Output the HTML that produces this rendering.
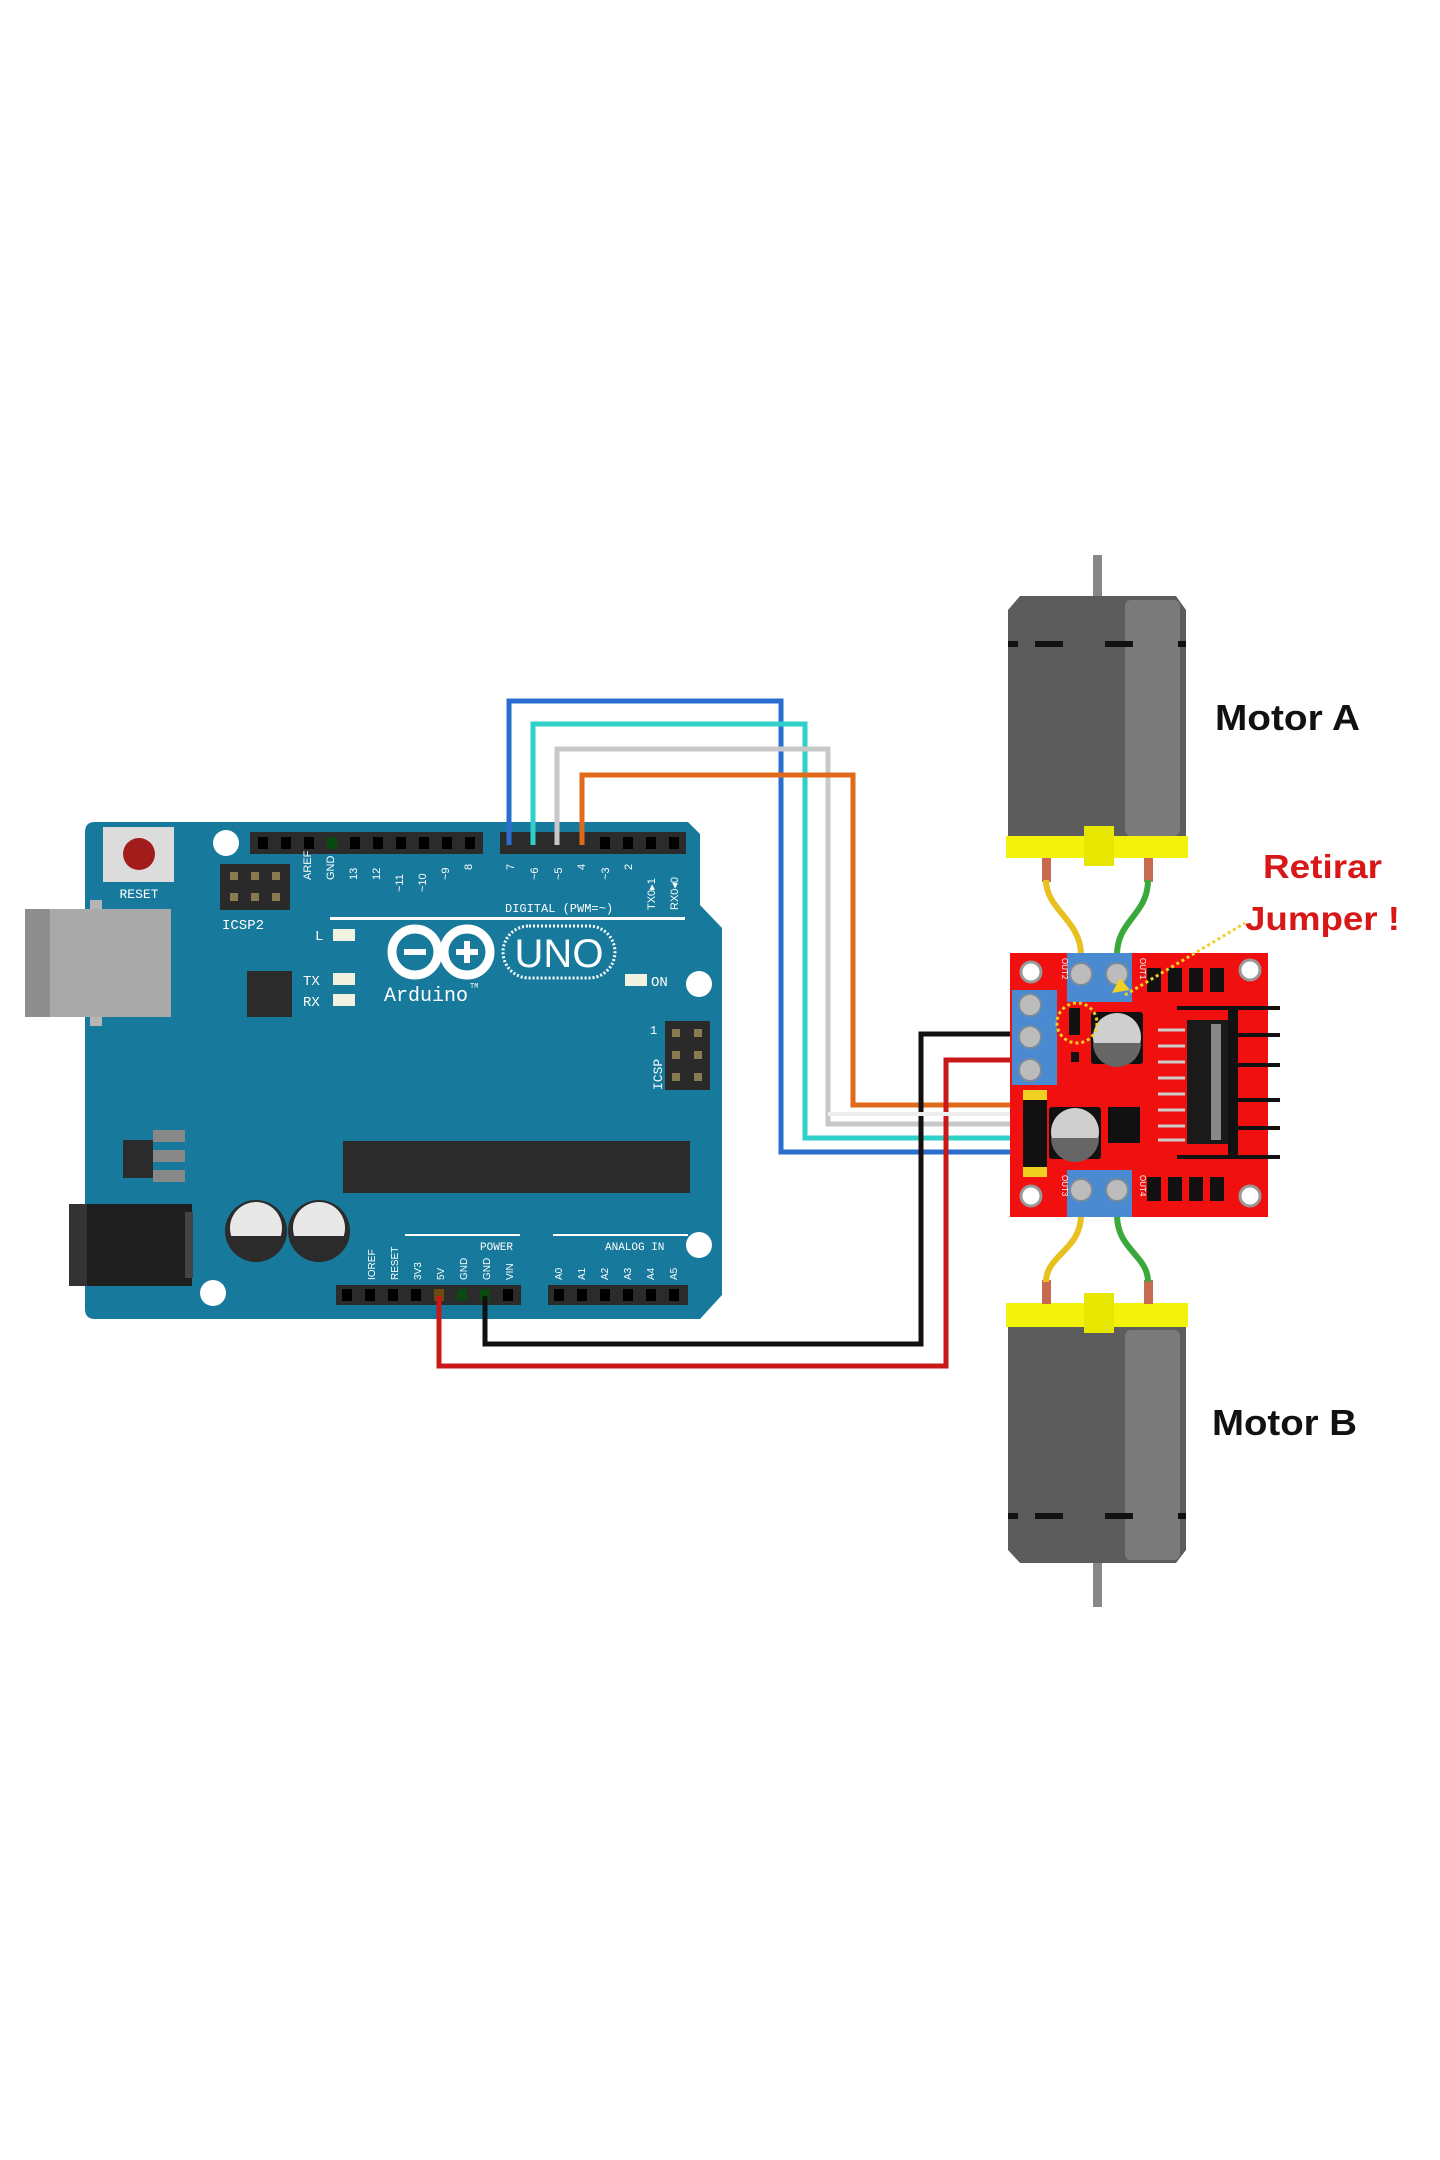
<!DOCTYPE html>
<html><head><meta charset="utf-8"><style>
html,body{margin:0;padding:0;background:#fff;}
svg{display:block;}
text{font-family:"Liberation Sans",sans-serif;}
.m{font-family:"Liberation Mono",monospace;fill:#fff;}
</style></head><body>
<svg width="1440" height="2160" viewBox="0 0 1440 2160" xmlns="http://www.w3.org/2000/svg">
<rect width="1440" height="2160" fill="#fff"/>

<!-- Arduino board -->
<path d="M95 822 H688 L700 834 V905 L722 928 V1295 L700 1319 H95 Q85 1319 85 1309 V832 Q85 822 95 822 Z" fill="#17799b"/>
<!-- USB -->
<rect x="25" y="909" width="146" height="108" fill="#a9a9a9"/>
<rect x="25" y="909" width="25" height="108" fill="#8e8e8e"/>
<rect x="90" y="900" width="12" height="9" fill="#b5b5b5"/><rect x="90" y="1017" width="12" height="9" fill="#b5b5b5"/>
<!-- Power jack -->
<rect x="69" y="1204" width="123" height="82" fill="#1e1e1e"/>
<rect x="69" y="1204" width="18" height="82" fill="#333"/>
<rect x="185" y="1212" width="8" height="66" fill="#444"/>
<!-- reset -->
<rect x="103" y="827" width="71" height="55" fill="#dcdcdc"/>
<circle cx="139" cy="854" r="16" fill="#a31c1c"/>
<text x="139" y="898" class="m" font-size="13" text-anchor="middle">RESET</text>
<!-- ICSP2 -->
<rect x="220" y="864" width="70" height="46" fill="#2a2a2a"/>
<g fill="#8a7a50"><rect x="230" y="872" width="8" height="8"/><rect x="251" y="872" width="8" height="8"/><rect x="272" y="872" width="8" height="8"/><rect x="230" y="893" width="8" height="8"/><rect x="251" y="893" width="8" height="8"/><rect x="272" y="893" width="8" height="8"/></g>
<text x="222" y="929" class="m" font-size="14">ICSP2</text>
<!-- holes -->
<g fill="#fff"><circle cx="226" cy="843" r="13"/><circle cx="699" cy="984" r="13"/><circle cx="699" cy="1245" r="13"/><circle cx="213" cy="1293" r="13"/></g>
<!-- top headers -->
<rect x="250" y="832" width="233" height="22" fill="#2b2b2b"/>
<rect x="500" y="832" width="186" height="22" fill="#2b2b2b"/>
<g fill="#000">
<rect x="258" y="837" width="10" height="12"/><rect x="281" y="837" width="10" height="12"/><rect x="304" y="837" width="10" height="12"/><rect x="327" y="837" width="10" height="12" fill="#0a4a10"/><rect x="350" y="837" width="10" height="12"/><rect x="373" y="837" width="10" height="12"/><rect x="396" y="837" width="10" height="12"/><rect x="419" y="837" width="10" height="12"/><rect x="442" y="837" width="10" height="12"/><rect x="465" y="837" width="10" height="12"/>
<rect x="600" y="837" width="10" height="12"/><rect x="623" y="837" width="10" height="12"/><rect x="646" y="837" width="10" height="12"/><rect x="669" y="837" width="10" height="12"/>
</g>
<g class="m" font-size="11">
<text transform="translate(311,880) rotate(-90)">AREF</text>
<text transform="translate(334,880) rotate(-90)">GND</text>
<text transform="translate(357,880) rotate(-90)">13</text>
<text transform="translate(380,880) rotate(-90)">12</text>
<text transform="translate(403,892) rotate(-90)">~11</text>
<text transform="translate(426,892) rotate(-90)">~10</text>
<text transform="translate(449,880) rotate(-90)">~9</text>
<text transform="translate(472,870) rotate(-90)">8</text>
<text transform="translate(514,870) rotate(-90)">7</text>
<text transform="translate(538,880) rotate(-90)">~6</text>
<text transform="translate(562,880) rotate(-90)">~5</text>
<text transform="translate(585,870) rotate(-90)">4</text>
<text transform="translate(609,880) rotate(-90)">~3</text>
<text transform="translate(632,870) rotate(-90)">2</text>
<text transform="translate(655,910) rotate(-90)">TX0▸1</text>
<text transform="translate(678,910) rotate(-90)">RX0◂0</text>
</g>
<text x="505" y="912" class="m" font-size="12">DIGITAL (PWM=~)</text>
<rect x="330" y="917" width="355" height="3" fill="#fff"/>
<!-- LEDs -->
<text x="315" y="940" class="m" font-size="14">L</text><rect x="333" y="929" width="22" height="12" fill="#f1f1e0"/>
<text x="303" y="985" class="m" font-size="14">TX</text><rect x="333" y="973" width="22" height="12" fill="#f1f1e0"/>
<text x="303" y="1006" class="m" font-size="14">RX</text><rect x="333" y="994" width="22" height="12" fill="#f1f1e0"/>
<rect x="625" y="974" width="22" height="12" fill="#f1f1e0"/><text x="651" y="986" class="m" font-size="14">ON</text>
<!-- small chip -->
<rect x="247" y="971" width="45" height="46" fill="#2b2b2b"/>
<!-- logo -->
<g fill="none" stroke="#fff" stroke-width="9">
<circle cx="415" cy="952" r="23"/><circle cx="467" cy="952" r="23"/>
</g>
<rect x="404" y="949" width="22" height="6" fill="#fff"/>
<rect x="456" y="949" width="22" height="6" fill="#fff"/><rect x="464" y="941" width="6" height="22" fill="#fff"/>
<rect x="503" y="926" width="112" height="52" rx="26" fill="none" stroke="#fff" stroke-width="3" stroke-dasharray="2 2"/>
<text x="559" y="967" font-size="40" fill="#fff" text-anchor="middle">UNO</text>
<text x="384" y="1001" class="m" font-size="20">Arduino</text><text x="470" y="988" class="m" font-size="7">TM</text>
<!-- ICSP right -->
<rect x="665" y="1021" width="45" height="69" fill="#2a2a2a"/>
<g fill="#8a7a50"><rect x="672" y="1029" width="8" height="8"/><rect x="694" y="1029" width="8" height="8"/><rect x="672" y="1051" width="8" height="8"/><rect x="694" y="1051" width="8" height="8"/><rect x="672" y="1073" width="8" height="8"/><rect x="694" y="1073" width="8" height="8"/></g>
<text transform="translate(662,1090) rotate(-90)" class="m" font-size="13">ICSP</text>
<text x="650" y="1034" class="m" font-size="12">1</text>
<!-- regulator -->
<rect x="123" y="1140" width="30" height="38" fill="#2b2b2b"/>
<rect x="153" y="1130" width="32" height="12" fill="#888"/><rect x="153" y="1150" width="32" height="12" fill="#888"/><rect x="153" y="1170" width="32" height="12" fill="#888"/>
<!-- main chip -->
<rect x="343" y="1141" width="347" height="52" fill="#2b2b2b"/>
<!-- caps -->
<circle cx="256" cy="1231" r="31" fill="#2b2b2b"/><circle cx="256" cy="1228" r="26" fill="#e8e8e8"/><path d="M230 1236 A26 26 0 0 0 282 1236 Z" fill="#2b2b2b"/>
<circle cx="319" cy="1231" r="31" fill="#2b2b2b"/><circle cx="319" cy="1228" r="26" fill="#e8e8e8"/><path d="M293 1236 A26 26 0 0 0 345 1236 Z" fill="#2b2b2b"/>
<!-- bottom headers -->
<rect x="336" y="1285" width="185" height="20" fill="#2b2b2b"/>
<rect x="548" y="1285" width="140" height="20" fill="#2b2b2b"/>
<g fill="#000">
<rect x="342" y="1289" width="10" height="12"/><rect x="365" y="1289" width="10" height="12"/><rect x="388" y="1289" width="10" height="12"/><rect x="411" y="1289" width="10" height="12"/><rect x="434" y="1289" width="10" height="12" fill="#6b4a10"/><rect x="457" y="1289" width="10" height="12" fill="#0a4a10"/><rect x="480" y="1289" width="10" height="12" fill="#0a4a10"/><rect x="503" y="1289" width="10" height="12"/>
<rect x="554" y="1289" width="10" height="12"/><rect x="577" y="1289" width="10" height="12"/><rect x="600" y="1289" width="10" height="12"/><rect x="623" y="1289" width="10" height="12"/><rect x="646" y="1289" width="10" height="12"/><rect x="669" y="1289" width="10" height="12"/>
</g>
<rect x="405" y="1234" width="115" height="2" fill="#fff"/><rect x="553" y="1234" width="135" height="2" fill="#fff"/>
<text x="480" y="1250" class="m" font-size="11">POWER</text><text x="605" y="1250" class="m" font-size="11">ANALOG IN</text>
<g class="m" font-size="10">
<text transform="translate(375,1280) rotate(-90)">IOREF</text><text transform="translate(398,1280) rotate(-90)">RESET</text><text transform="translate(421,1280) rotate(-90)">3V3</text><text transform="translate(444,1280) rotate(-90)">5V</text><text transform="translate(467,1280) rotate(-90)">GND</text><text transform="translate(490,1280) rotate(-90)">GND</text><text transform="translate(513,1280) rotate(-90)">VIN</text>
<text transform="translate(562,1280) rotate(-90)">A0</text><text transform="translate(585,1280) rotate(-90)">A1</text><text transform="translate(608,1280) rotate(-90)">A2</text><text transform="translate(631,1280) rotate(-90)">A3</text><text transform="translate(654,1280) rotate(-90)">A4</text><text transform="translate(677,1280) rotate(-90)">A5</text>
</g>

<!-- Wires -->
<g fill="none" stroke-width="5" stroke-linejoin="miter">
<polyline points="509,845 509,701 781,701 781,1152 1012,1152" stroke="#2a6fd0"/>
<polyline points="533,845 533,724 805,724 805,1138 1012,1138" stroke="#2fd0c8"/>
<polyline points="557,845 557,749 828,749 828,1124 1012,1124" stroke="#c8c8c8"/>
<polyline points="582,845 582,775 853,775 853,1105 1012,1105" stroke="#e06a1a"/>
<polyline points="485,1296 485,1344 921,1344 921,1034 1012,1034" stroke="#111"/>
<polyline points="439,1296 439,1366 946,1366 946,1060 1012,1060" stroke="#c81818"/>
</g>
<line x1="828" y1="1114" x2="1012" y2="1114" stroke="#eee" stroke-width="4"/>

<!-- Motor A -->
<rect x="1093" y="555" width="9" height="45" fill="#888"/>
<path d="M1020 596 H1176 L1186 610 V836 H1008 V610 Z" fill="#5c5c5c"/>
<rect x="1125" y="600" width="55" height="236" fill="#7a7a7a" rx="6"/>
<g fill="#111"><rect x="1008" y="641" width="10" height="6"/><rect x="1035" y="641" width="28" height="6"/><rect x="1105" y="641" width="28" height="6"/><rect x="1178" y="641" width="8" height="6"/></g>
<rect x="1006" y="836" width="182" height="22" fill="#f2f20a"/>
<rect x="1084" y="826" width="30" height="40" fill="#e6e600"/>
<rect x="1042" y="858" width="9" height="24" fill="#c86a50"/><rect x="1144" y="858" width="9" height="24" fill="#c86a50"/>
<!-- Motor B -->
<rect x="1093" y="1560" width="9" height="47" fill="#888"/>
<path d="M1008 1327 H1186 V1550 L1176 1563 H1020 L1008 1550 Z" fill="#5c5c5c"/>
<rect x="1125" y="1330" width="55" height="230" fill="#7a7a7a" rx="6"/>
<g fill="#111"><rect x="1008" y="1513" width="10" height="6"/><rect x="1035" y="1513" width="28" height="6"/><rect x="1105" y="1513" width="28" height="6"/><rect x="1178" y="1513" width="8" height="6"/></g>
<rect x="1006" y="1303" width="182" height="24" fill="#f2f20a"/>
<rect x="1084" y="1293" width="30" height="40" fill="#e6e600"/>
<rect x="1042" y="1280" width="9" height="24" fill="#c86a50"/><rect x="1144" y="1280" width="9" height="24" fill="#c86a50"/>

<!-- Motor wires -->
<g fill="none" stroke-width="6">
<path d="M1046 880 C1046 910 1081 920 1081 955" stroke="#e8c020"/>
<path d="M1148 880 C1148 915 1117 920 1117 955" stroke="#3aa83a"/>
<path d="M1081 1215 C1081 1250 1046 1255 1046 1282" stroke="#e8c020"/>
<path d="M1117 1215 C1117 1250 1148 1255 1148 1282" stroke="#3aa83a"/>
</g>

<!-- L298N board -->
<rect x="1010" y="953" width="258" height="264" fill="#f01010"/>
<g fill="#fff" stroke="#999" stroke-width="3"><circle cx="1031" cy="972" r="10"/><circle cx="1250" cy="970" r="10"/><circle cx="1031" cy="1196" r="10"/><circle cx="1250" cy="1196" r="10"/></g>
<rect x="1067" y="953" width="65" height="49" fill="#4a8ad0"/>
<rect x="1067" y="1170" width="65" height="47" fill="#4a8ad0"/>
<rect x="1012" y="990" width="45" height="95" fill="#4a8ad0"/>
<g fill="#bcbcbc" stroke="#7a8a9a" stroke-width="2">
<circle cx="1081" cy="974" r="11"/><circle cx="1117" cy="974" r="11"/>
<circle cx="1081" cy="1190" r="11"/><circle cx="1117" cy="1190" r="11"/>
<circle cx="1030" cy="1005" r="11"/><circle cx="1030" cy="1037" r="11"/><circle cx="1030" cy="1070" r="11"/>
</g>
<g fill="#111"><rect x="1147" y="968" width="14" height="24"/><rect x="1168" y="968" width="14" height="24"/><rect x="1189" y="968" width="14" height="24"/><rect x="1210" y="968" width="14" height="24"/>
<rect x="1147" y="1177" width="14" height="24"/><rect x="1168" y="1177" width="14" height="24"/><rect x="1189" y="1177" width="14" height="24"/><rect x="1210" y="1177" width="14" height="24"/></g>
<g stroke="#111" stroke-width="4"><line x1="1177" y1="1008" x2="1280" y2="1008"/><line x1="1230" y1="1035" x2="1280" y2="1035"/><line x1="1230" y1="1065" x2="1280" y2="1065"/><line x1="1230" y1="1100" x2="1280" y2="1100"/><line x1="1230" y1="1128" x2="1280" y2="1128"/><line x1="1177" y1="1157" x2="1280" y2="1157"/></g>
<rect x="1187" y="1020" width="46" height="124" fill="#1a1a1a"/>
<rect x="1211" y="1024" width="10" height="116" fill="#888"/>
<rect x="1228" y="1008" width="10" height="150" fill="#111"/>
<g stroke="#ccc" stroke-width="3"><line x1="1158" y1="1030" x2="1185" y2="1030"/><line x1="1158" y1="1046" x2="1185" y2="1046"/><line x1="1158" y1="1062" x2="1185" y2="1062"/><line x1="1158" y1="1078" x2="1185" y2="1078"/><line x1="1158" y1="1094" x2="1185" y2="1094"/><line x1="1158" y1="1110" x2="1185" y2="1110"/><line x1="1158" y1="1126" x2="1185" y2="1126"/><line x1="1158" y1="1140" x2="1185" y2="1140"/></g>
<rect x="1091" y="1012" width="52" height="52" fill="#111" rx="3"/>
<circle cx="1117" cy="1037" r="24" fill="#cfcfcf"/><path d="M1093 1043 A24 24 0 0 0 1141 1043 Z" fill="#666"/>
<rect x="1049" y="1107" width="52" height="52" fill="#111" rx="3"/>
<circle cx="1075" cy="1132" r="24" fill="#cfcfcf"/><path d="M1051 1138 A24 24 0 0 0 1099 1138 Z" fill="#666"/>
<rect x="1108" y="1107" width="32" height="36" fill="#111"/>
<rect x="1069" y="1008" width="11" height="27" fill="#111"/>
<rect x="1071" y="1052" width="8" height="10" fill="#111"/>
<rect x="1023" y="1090" width="24" height="87" fill="#111"/>
<rect x="1023" y="1090" width="24" height="10" fill="#f0d020"/><rect x="1023" y="1167" width="24" height="10" fill="#f0d020"/>
<circle cx="1077" cy="1023" r="20" fill="none" stroke="#f0d020" stroke-width="3" stroke-dasharray="3 3"/>
<line x1="1125" y1="995" x2="1245" y2="923" stroke="#f0d020" stroke-width="3" stroke-dasharray="3 3"/>
<polygon points="1112,993 1130,990 1120,978" fill="#f0d020"/>
<g font-size="8" fill="#fff"><text transform="translate(1062,958) rotate(90)">OUT2</text><text transform="translate(1140,958) rotate(90)">OUT1</text><text transform="translate(1062,1175) rotate(90)">OUT3</text><text transform="translate(1140,1175) rotate(90)">OUT4</text></g>

<!-- Labels -->
<text x="1215" y="730" font-size="36" font-weight="bold" fill="#111" textLength="145" lengthAdjust="spacingAndGlyphs">Motor A</text>
<text x="1212" y="1435" font-size="36" font-weight="bold" fill="#111" textLength="145" lengthAdjust="spacingAndGlyphs">Motor B</text>
<text x="1263" y="878" font-size="33" font-weight="bold" fill="#d81818" textLength="119" lengthAdjust="spacingAndGlyphs">Retirar</text>
<text x="1245" y="930" font-size="33" font-weight="bold" fill="#d81818" textLength="155" lengthAdjust="spacingAndGlyphs">Jumper !</text>
</svg>
</body></html>
